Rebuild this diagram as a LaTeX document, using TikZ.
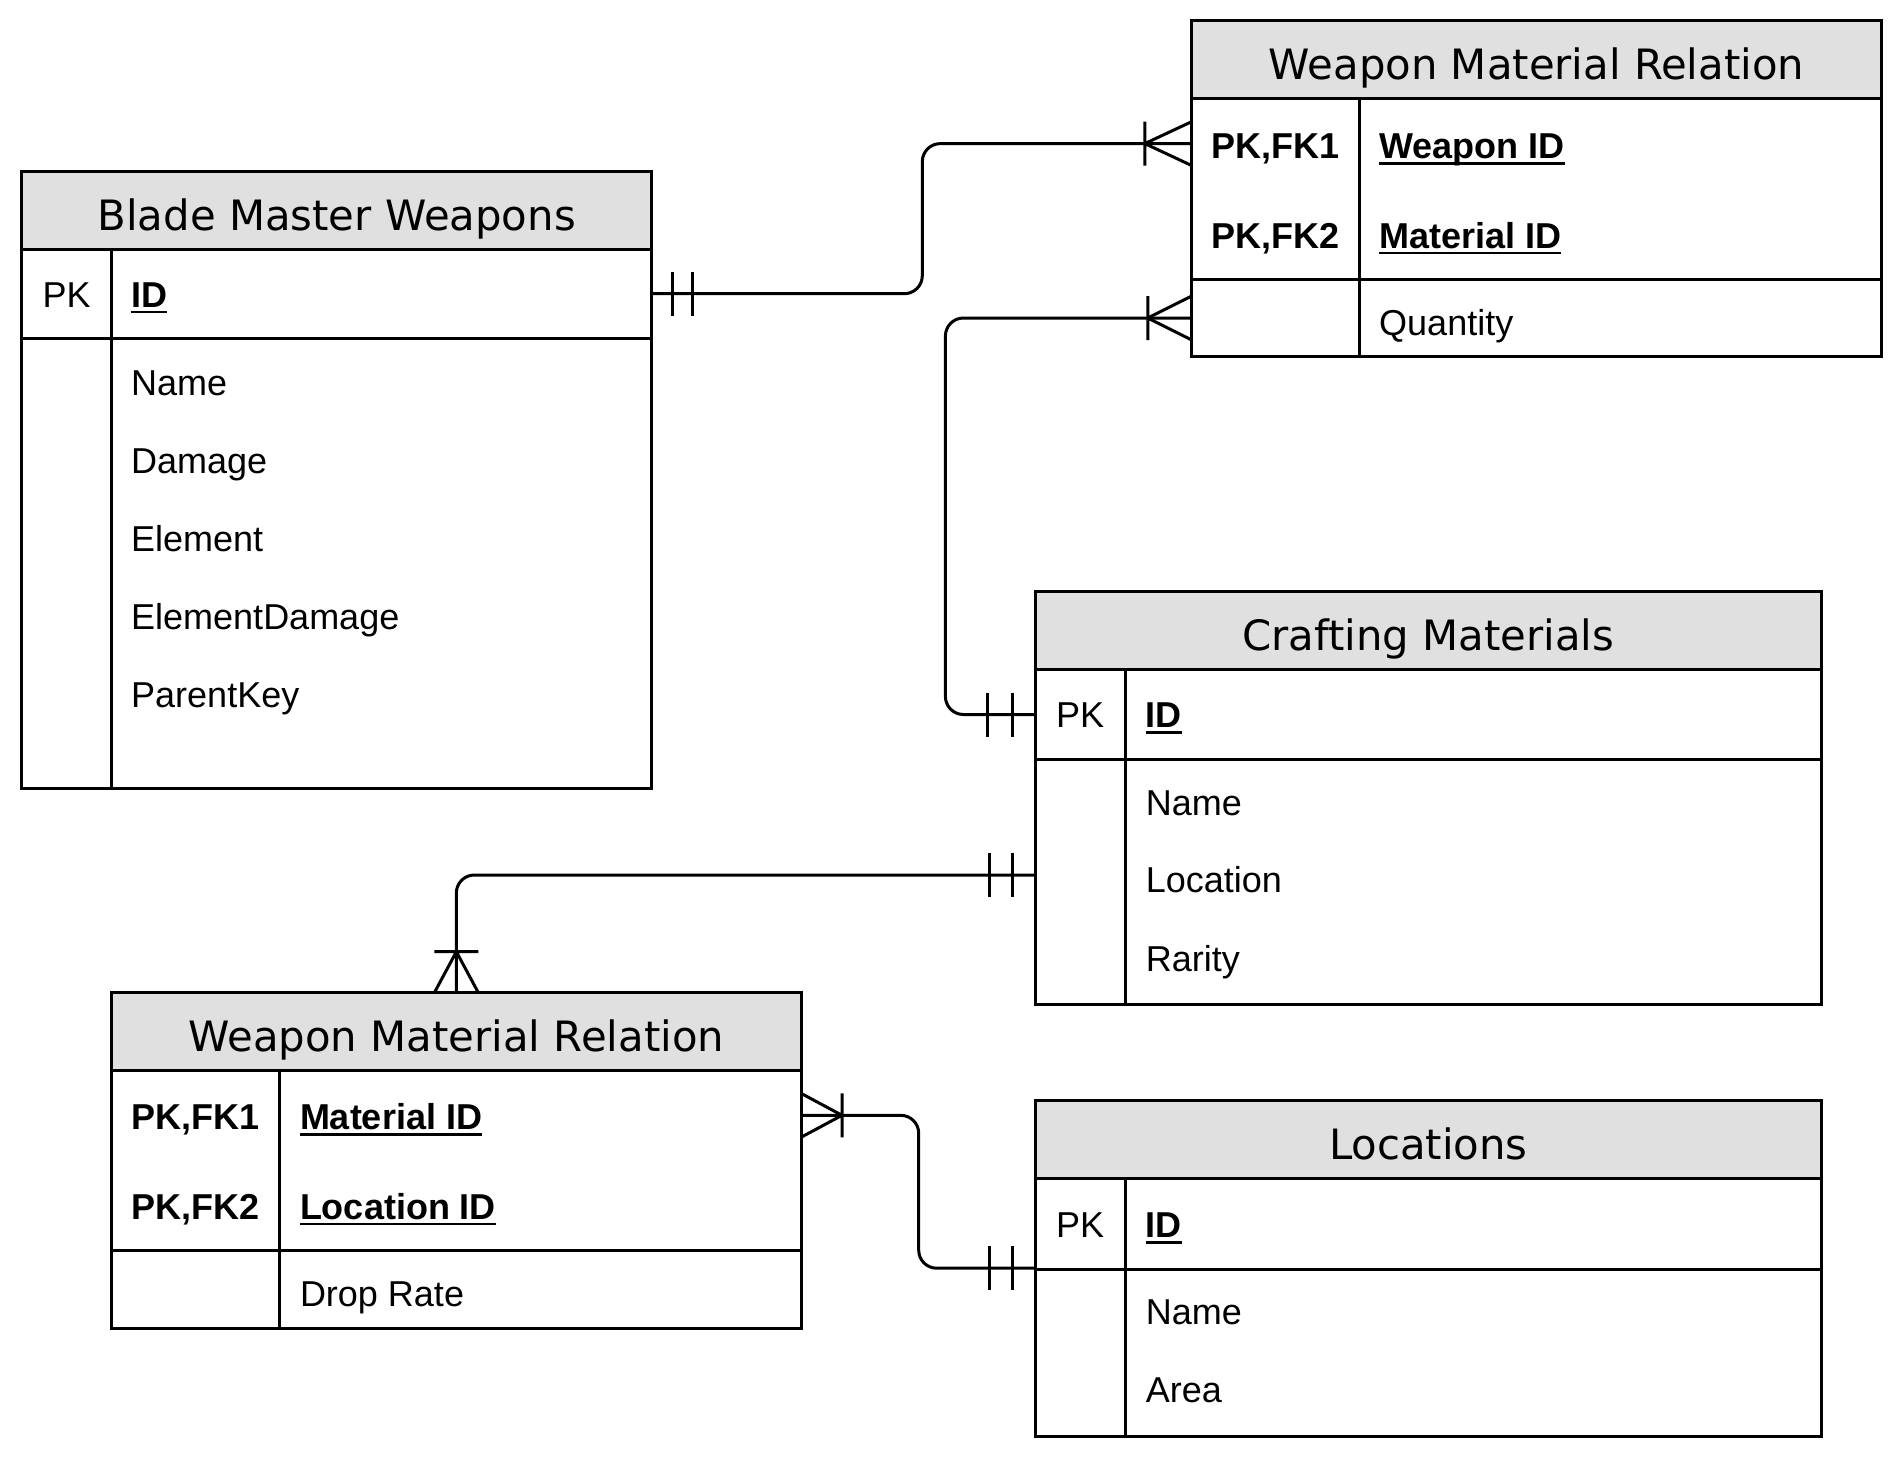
\documentclass[tikz,border=0pt]{standalone}
\usepackage{fontspec}
\setmainfont{Liberation Sans}
\newfontfamily\hdrfont{DejaVu Sans}
\usetikzlibrary{calc}
\definecolor{hdrgray}{HTML}{E0E0E0}
\newcommand{\fsz}{\fontsize{36pt}{42pt}\selectfont}
\newcommand{\ulbf}[1]{\setbox0\hbox{\bfseries #1}\rlap{\rule[-6pt]{\wd0}{2.6pt}}\box0}
\begin{document}
\begin{tikzpicture}[x=1pt,y=-1pt,
  bd/.style={line width=3pt},
  tbl/.style={draw, line width=3pt, inner sep=0pt, outer sep=0pt, anchor=north west},
  hdr/.style={draw, fill=hdrgray, line width=3pt, inner sep=0pt, outer sep=0pt, anchor=north west, minimum height=78pt},
  ttl/.style={font=\hdrfont\fontsize{41.8pt}{48pt}\selectfont, anchor=base, inner sep=0pt},
  fld/.style={font=\fsz, anchor=base west, inner sep=0pt},
  keytxt/.style={font=\fsz, anchor=base, inner sep=0pt},
  conn/.style={line width=3pt, rounded corners=18pt},
  mk/.style={line width=3pt},
  pics/mone/.style args={#1/#2}{code={\draw[mk] (#1,-22) -- (#1,22) (#2,-22) -- (#2,22);}},
  pics/cmany/.style={code={\draw[mk] (0,-22) -- (#1,0) -- (0,22) (#1,-22) -- (#1,22);}},
]
\useasboundingbox (0,0) rectangle (1903,1459);

% ---------- Table 1: Blade Master Weapons
\node[tbl, minimum width=629.9pt, minimum height=617.7pt] (t1) at (21.8,171.1) {};
\node[hdr, minimum width=629.9pt] (t1h) at (21.8,171.1) {};
\draw[bd] (21.8,338.6) -- (651.7,338.6);
\draw[bd] (111.7,249.1) -- (111.7,788.8);
\node[ttl] (t1t) at (336.7,230.6) {Blade Master Weapons};
\node[keytxt] (t1pk) at (66.7,307.3) {PK};
\node[fld] (t1id) at (131,307.3) {\ulbf{ID}};
\node[fld] (t1f1) at (131,395) {Name};
\node[fld] (t1f2) at (131,473) {Damage};
\node[fld] (t1f3) at (131,551) {Element};
\node[fld] (t1f4) at (131,629.5) {ElementDamage};
\node[fld] (t1f5) at (131,707) {ParentKey};

% ---------- Table 2: Weapon Material Relation (top)
\node[tbl, minimum width=689.3pt, minimum height=336.2pt] (t2) at (1191.8,20.6) {};
\node[hdr, minimum width=689.3pt] (t2h) at (1191.8,20.6) {};
\draw[bd] (1191.8,279.1) -- (1881.1,279.1);
\draw[bd] (1359.2,98.6) -- (1359.2,356.8);
\node[ttl] (t2t) at (1536.5,79.6) {Weapon Material Relation};
\node[keytxt] (t2k1) at (1275.5,158.6) {\bfseries PK,FK1};
\node[keytxt] (t2k2) at (1275.5,248.4) {\bfseries PK,FK2};
\node[fld] (t2f1) at (1379,158.6) {\ulbf{Weapon ID}};
\node[fld] (t2f2) at (1379,248.4) {\ulbf{Material ID}};
\node[fld] (t2f3) at (1379,335.8) {Quantity};

% ---------- Table 3: Crafting Materials
\node[tbl, minimum width=786.4pt, minimum height=413.9pt] (t3) at (1035.2,591) {};
\node[hdr, minimum width=786.4pt] (t3h) at (1035.2,591) {};
\draw[bd] (1035.2,759.7) -- (1821.6,759.7);
\draw[bd] (1125,669) -- (1125,1004.9);
\node[ttl] (t3t) at (1428.4,650) {Crafting Materials};
\node[keytxt] (t3pk) at (1080,727.8) {PK};
\node[fld] (t3id) at (1145.6,727.8) {\ulbf{ID}};
\node[fld] (t3f1) at (1145.6,815.2) {Name};
\node[fld] (t3f2) at (1145.6,892.9) {Location};
\node[fld] (t3f3) at (1145.6,971.7) {Rarity};

% ---------- Table 4: Weapon Material Relation (bottom)
\node[tbl, minimum width=689.3pt, minimum height=336.2pt] (t4) at (111.7,992.7) {};
\node[hdr, minimum width=689.3pt] (t4h) at (111.7,992.7) {};
\draw[bd] (111.7,1250) -- (801,1250);
\draw[bd] (279.1,1070.7) -- (279.1,1328.9);
\node[ttl] (t4t) at (456.3,1051.7) {Weapon Material Relation};
\node[keytxt] (t4k1) at (195.4,1129.5) {\bfseries PK,FK1};
\node[keytxt] (t4k2) at (195.4,1219.3) {\bfseries PK,FK2};
\node[fld] (t4f1) at (299.8,1129.5) {\ulbf{Material ID}};
\node[fld] (t4f2) at (299.8,1219.3) {\ulbf{Location ID}};
\node[fld] (t4f3) at (299.8,1306.7) {Drop Rate};

% ---------- Table 5: Locations
\node[tbl, minimum width=786.4pt, minimum height=336.2pt] (t5) at (1035.2,1100.7) {};
\node[hdr, minimum width=786.4pt] (t5h) at (1035.2,1100.7) {};
\draw[bd] (1035.2,1269.4) -- (1821.6,1269.4);
\draw[bd] (1125,1178.7) -- (1125,1436.9);
\node[ttl] (t5t) at (1428.4,1159.7) {Locations};
\node[keytxt] (t5pk) at (1080,1237.5) {PK};
\node[fld] (t5id) at (1145.6,1237.5) {\ulbf{ID}};
\node[fld] (t5f1) at (1145.6,1324.9) {Name};
\node[fld] (t5f2) at (1145.6,1402.6) {Area};

% ---------- Connectors
% Weapons -> Weapon Material Relation
\draw[conn] ($(t1.north east)+(0,122.6)$) -- ++(270.6,0) |- ($(t2.north west)+(0,123)$);
\pic at ($(t1.north east)+(0,122.6)$) {mone=20.6/41};
\pic[rotate=180] at ($(t2.north west)+(0,123)$) {cmany=47};

% Weapon Material Relation -> Crafting Materials
\draw[conn] ($(t2.north west)+(0,297.4)$) -- ++(-246.4,0) |- ($(t3.north west)+(0,123.5)$);
\pic[rotate=180] at ($(t2.north west)+(0,297.4)$) {cmany=44};
\pic[rotate=180] at ($(t3.north west)+(0,123.5)$) {mone=22.3/47.3};

% Crafting Materials -> bottom relation
\draw[conn] ($(t3.north west)+(0,284)$) -| (t4.north);
\pic[rotate=180] at ($(t3.north west)+(0,284)$) {mone=22.3/46};
\pic[rotate=90] at (t4.north) {cmany=41};

% bottom relation -> Locations
\draw[conn] ($(t4.north east)+(0,122.6)$) -- ++(117.7,0) |- ($(t5.north west)+(0,167.5)$);
\pic at ($(t4.north east)+(0,122.6)$) {cmany=41};
\pic[rotate=180] at ($(t5.north west)+(0,167.5)$) {mone=22.3/46};
\end{tikzpicture}
\end{document}
